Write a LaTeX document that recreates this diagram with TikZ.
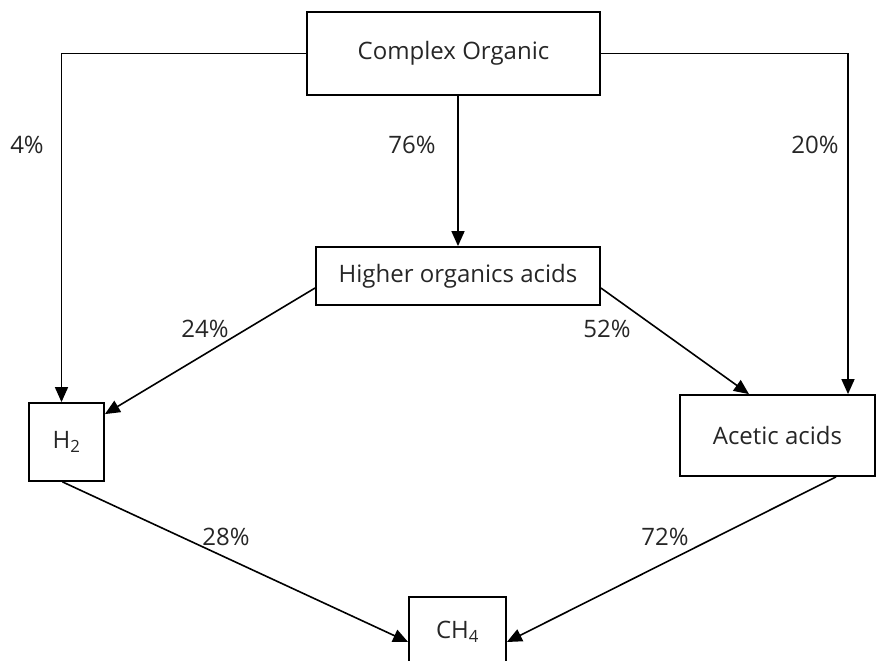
\documentclass[tikz,border=0pt]{standalone}
\usepackage{fontspec}
\setmainfont{Open Sans}
\usetikzlibrary{arrows.meta}
\begin{document}
\begin{tikzpicture}[x=1pt,y=-1pt,
  box/.style={draw=black,line width=1.8pt,inner sep=0pt,font=\fontsize{24}{28}\selectfont,text=black!85},
  lbl/.style={inner sep=0pt,font=\fontsize{24}{28}\selectfont,text=black!85},
  conn/.style={line width=1.6pt,-{Triangle[length=15pt,width=13pt]}}]
\useasboundingbox (0,0) rectangle (876,661);
\node[box,minimum width=293pt,minimum height=83pt] (CO) at (453.5,53.5) {Complex Organic};
\node[box,minimum width=284pt,minimum height=58pt] (HOA) at (458,276) {Higher organics acids};
\node[box,minimum width=75pt,minimum height=78pt] (H2) at (66.5,442) {H\textsubscript{2}};
\node[box,minimum width=195pt,minimum height=81pt] (AA) at (777.5,435.5) {Acetic acids};
\node[box,minimum width=97pt,minimum height=70pt] (CH4) at (457.5,632) {CH\textsubscript{4}};
\coordinate (c1) at ([xshift=-5pt]H2.north);
\coordinate (c2) at ([xshift=70.5pt]AA.north);
\draw[conn] (CO.west) -| (c1);
\draw[conn] (CO.east) -| (c2);
\draw[conn] (CO.south -| HOA.north) -- (HOA.north);
\draw[conn] ([yshift=-12pt]HOA.west) -- ([yshift=-12pt]H2.north east);
\draw[conn] ([yshift=-12pt]HOA.east) -- ([xshift=-28.5pt]AA.north);
\draw[conn] ([xshift=-4pt]H2.south) -- ([yshift=-10pt]CH4.west);
\draw[conn] ([xshift=58.5pt]AA.south) -- ([yshift=-10pt]CH4.east);
\node[lbl] (l4) at (27,145) {4\%};
\node[lbl] (l76) at (412,145) {76\%};
\node[lbl] (l20) at (815,145) {20\%};
\node[lbl] (l24) at (205,329) {24\%};
\node[lbl] (l52) at (607,329) {52\%};
\node[lbl] (l28) at (226,537) {28\%};
\node[lbl] (l72) at (665,537) {72\%};
\end{tikzpicture}
\end{document}
